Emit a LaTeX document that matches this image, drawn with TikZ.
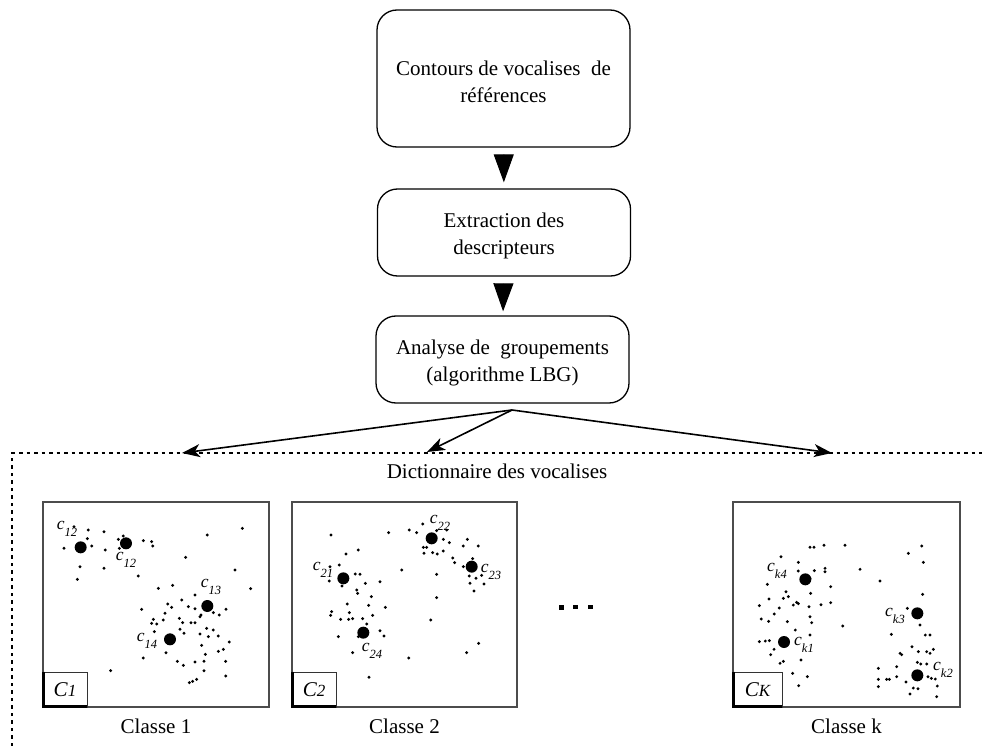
\documentclass[tikz,border=0pt]{standalone}
\usepackage{fontspec}
\setmainfont{Liberation Serif}
\usetikzlibrary{arrows.meta}
\newcommand{\cl}[2]{{\fontsize{17.5}{17.5}\selectfont\itshape #1\raisebox{-0.42em}{\fontsize{12.5}{12.5}\selectfont #2}}}
\newcommand{\lowered}[2]{\raisebox{-#1}[\height][\depth]{\begin{tabular}{@{}c@{}}#2\end{tabular}}}
\begin{document}
\begin{tikzpicture}[x=1pt,y=-1pt,
  proc/.style={draw, line width=1.3pt, rounded corners=20pt,
    font=\fontsize{21}{27}\selectfont, inner sep=0pt, minimum width=253pt},
  panel/.style={draw=black!70, line width=1.4pt, minimum width=#1,
    minimum height=205pt, inner sep=0pt},
  lbox/.style={draw=black!80, line width=0.8pt, minimum width=#1,
    minimum height=35pt, inner sep=0pt, font=\fontsize{21}{21}\selectfont\itshape},
  txt/.style={font=\fontsize{21}{25}\selectfont, inner sep=0pt},
  clab/.style={inner sep=0pt},
  bigarrow/.style={line width=1pt, -{Triangle[length=28pt,width=20pt]}},
  thinarrow/.style={line width=1.6pt, -{Stealth[length=18pt,width=13pt,inset=5pt]}},
  dotline/.style={line width=1.2pt, dash pattern=on 3.5pt off 4pt}
]
\useasboundingbox (0,0) rectangle (982,746);

% process boxes
\node[proc, minimum height=137pt] (b1) at (503.5,78.5) {\lowered{5pt}{Contours de vocalises\ \ de\\références}};
\node[proc, minimum height=87pt] (b2) at (504,232.5) {\lowered{3pt}{Extraction des\\descripteurs}};
\node[proc, minimum height=87pt] (b3) at (502.5,359.5) {\lowered{3pt}{Analyse de\ \ groupements\\(algorithme LBG)}};

\draw[bigarrow, shorten <=8pt, shorten >=6pt] (b1) -- (b2);
\draw[bigarrow, shorten <=7pt, shorten >=4pt] (b2) -- (b3);

% dictionary frame
\coordinate (corner) at (12,453);
\coordinate (rightend) at (982,453);
\coordinate (bottomend) at (12,746);
\draw[dotline] (bottomend) -- (corner) -- (rightend);

\coordinate (apex) at (512,410);
\coordinate (t1) at (182,453);
\coordinate (t2) at (427,452);
\coordinate (t3) at (832,453);
\draw[thinarrow] (apex) -- (t1);
\draw[thinarrow] (apex) -- (t2);
\draw[thinarrow] (apex) -- (t3);

\node[txt] (dict) at (497,471) {Dictionnaire des vocalises};

% panels
\node[panel=226pt] (p1) at (156,604.5) {};
\node[panel=225pt] (p2) at (404.5,604.5) {};
\node[panel=227pt] (pk) at (846.5,604.5) {};

\node[txt] (n1) at (156,726) {Classe 1};
\node[txt] (n2) at (404.5,726) {Classe 2};
\node[txt] (nk) at (846.5,726) {Classe k};

% class label boxes
\node[lbox=44pt] (k1) at (65,689.5) {C\fontsize{17}{17}\selectfont 1};
\node[lbox=44pt] (k2) at (314,689.5) {C\fontsize{17}{17}\selectfont 2};
\node[lbox=49pt] (kk) at (757.5,689.5) {C\fontsize{17}{17}\selectfont K};
\foreach \b in {k1,k2,kk}{
  \draw[line width=2.4pt] ([xshift=1pt]\b.north west) -- ([xshift=1pt,yshift=1pt]\b.south west) -- ([yshift=1pt]\b.south east);
}

% ellipsis
\fill (559,605) rectangle (563.5,609.5);
\fill (573,605) rectangle (578,609);
\fill (588,605) rectangle (593,609);

% panel 1 points
\foreach \x/\y in {265/210,312/215,192/265,275/258,316/270,240/320,232/358,312/325,355/238,370/228,430/242,455/245,458/258,358/265,415/348,622/225,727/205,557/292,705/330,752/386,475/385,518/376,585/405,545/420,503/432,515/442,425/448,565/440,585/446,600/470,640/458,658/465,678/448,460/478,490/480,470/492,455/490,495/460,538/475,548/488,573/488,585/488,540/508,552/520,463/515,600/522,620/505,640/510,655/528,625/530,688/546,670/568,655/574,605/556,498/578,430/594,532/604,550/616,585/606,612/604,616/583,677/604,612/632,677/648,568/668,578/664,590/658,332/632,222/200,262/236,603/465}
  \fill ({\x/3},{460+\y/3}) circle[radius=1.6];
\foreach \x/\y in {242/262,378/250,622/438,510/538}
  \fill ({\x/3},{460+\y/3}) circle[radius=6];
\node[clab] (c1a) at (67,529) {\cl{c}{12}};
\node[clab] (c1b) at (126,560) {\cl{c}{12}};
\node[clab] (c1c) at (211,587) {\cl{c}{13}};
\node[clab] (c1d) at (147,641) {\cl{c}{14}};

% panel 2 points
\foreach \x/\y in {153/225,326/218,388/210,410/218,428/192,500/210,490/238,508/248,430/262,440/262,432/280,458/278,472/282,490/273,518/294,524/308,550/258,562/238,595/258,578/296,550/320,568/348,588/355,605/346,612/372,582/393,570/370,365/330,470/343,470/413,452/480,596/550,560/578,198/282,235/270,178/315,150/320,226/342,240/343,256/370,300/365,148/363,186/378,233/400,274/410,202/432,266/436,316/442,155/455,152/466,182/478,208/458,206/478,218/476,248/476,278/466,260/492,235/530,175/530,300/512,312/528,218/578,386/594,267/652,470/212,230/390}
  \fill ({280+\x/3},{460+\y/3}) circle[radius=1.6];
\foreach \x/\y in {455/235,190/355,575/320,250/518}
  \fill ({280+\x/3},{460+\y/3}) circle[radius=6];
\node[clab] (c2b) at (440,523) {\cl{c}{22}};
\node[clab] (c2a) at (323,570) {\cl{c}{21}};
\node[clab] (c2c) at (491,572) {\cl{c}{23}};
\node[clab] (c2d) at (372,651) {\cl{c}{24}};

% panel k points
\foreach \x/\y in {330/262,342/262,372/256,435/256,243/290,295/307,295/333,343/332,375/325,375/335,480/328,540/363,625/280,665/258,670/307,668/403,202/373,330/355,392/380,332/400,207/417,250/415,265/410,258/395,290/427,295/431,280/435,238/444,178/437,327/440,363/434,392/428,223/462,184/477,206/484,262/485,330/470,335/488,428/498,574/523,286/510,330/525,178/545,196/543,208/542,222/568,212/584,240/610,250/604,303/600,278/640,322/650,296/677,622/445,660/495,676/525,690/525,636/560,600/580,605/584,655/575,680/575,700/568,690/580,590/620,535/625,535/658,535/680,560/658,568/658,590/650,618/666,640/684,654/686,630/702,712/678,710/710,652/607,662/612,680/612,684/650,694/655,706/657}
  \fill ({700+\x/3},{460+\y/3}) circle[radius=1.6];
\foreach \x/\y in {316/358,252/546,652/460,652/646}
  \fill ({700+\x/3},{460+\y/3}) circle[radius=6];
\node[clab] (cka) at (777,571) {\cl{c}{k4}};
\node[clab] (ckb) at (804,645) {\cl{c}{k1}};
\node[clab] (ckc) at (895,616) {\cl{c}{k3}};
\node[clab] (ckd) at (943,670) {\cl{c}{k2}};
\end{tikzpicture}
\end{document}
